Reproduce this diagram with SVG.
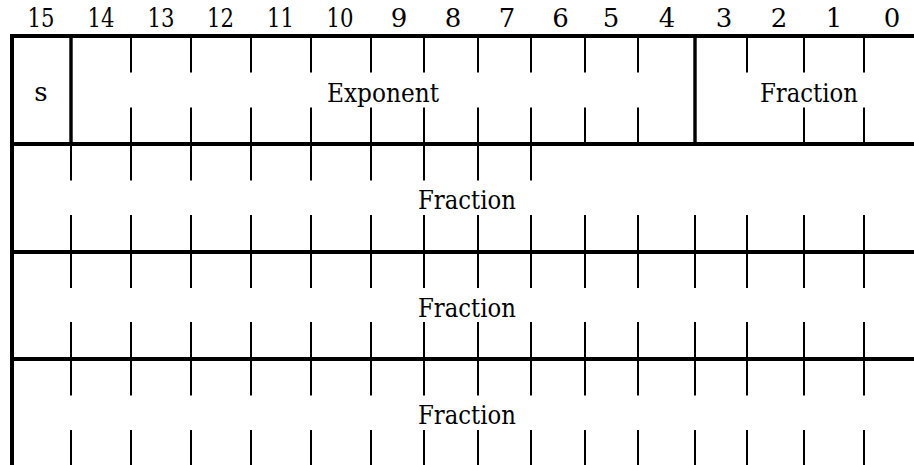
<svg xmlns="http://www.w3.org/2000/svg" width="914" height="465" viewBox="0 0 914 465">
<style>
text{font-family:'DejaVu Serif',serif;font-size:26px;fill:#000;text-anchor:middle}
.rule{stroke:#000;stroke-width:4;fill:none}
.div{stroke:#000;stroke-width:3.4;fill:none}
.tick{stroke:#000;stroke-width:2;fill:none}
</style>
<rect width="914" height="465" fill="#fff"/>
<g id="bit-numbers">
<text x="41" y="26.5" textLength="27" lengthAdjust="spacingAndGlyphs">15</text>
<text x="101" y="26.5" textLength="27" lengthAdjust="spacingAndGlyphs">14</text>
<text x="161" y="26.5" textLength="27" lengthAdjust="spacingAndGlyphs">13</text>
<text x="220.5" y="26.5" textLength="27" lengthAdjust="spacingAndGlyphs">12</text>
<text x="280.5" y="26.5" textLength="27" lengthAdjust="spacingAndGlyphs">11</text>
<text x="340" y="26.5" textLength="27" lengthAdjust="spacingAndGlyphs">10</text>
<text x="399" y="26.5">9</text>
<text x="453" y="26.5">8</text>
<text x="507" y="26.5">7</text>
<text x="560.5" y="26.5">6</text>
<text x="611" y="26.5">5</text>
<text x="667" y="26.5">4</text>
<text x="724" y="26.5">3</text>
<text x="779" y="26.5">2</text>
<text x="834" y="26.5">1</text>
<text x="892" y="26.5">0</text>
</g>
<g id="connectors">
<path class="rule" d="M10 36H914M10 144H914M10 252H914M10 359H914M12 34V465"/>
<path class="div" d="M71 36V144M695 36V144"/>
</g>
<g id="field-sign">
<text x="41" y="100.5">s</text>
</g>
<g id="field-exponent">
<path class="tick" d="M131 36V72.5M191 36V72.5M251 36V72.5M311 36V72.5M371 36V72.5M424 36V72.5M478 36V72.5M531 36V72.5M585 36V72.5M638 36V72.5M131 107.5V144M191 107.5V144M251 107.5V144M311 107.5V144M371 107.5V144M424 107.5V144M478 107.5V144M531 107.5V144M585 107.5V144M638 107.5V144"/>
<text x="383" y="101.5" textLength="112" lengthAdjust="spacingAndGlyphs">Exponent</text>
</g>
<g id="field-fraction-1">
<path class="tick" d="M747 36V72.5M804 36V72.5M864 36V72.5M804 107.5V144M864 107.5V144"/>
<text x="809" y="101.5" textLength="98" lengthAdjust="spacingAndGlyphs">Fraction</text>
</g>
<g id="field-fraction-2">
<path class="tick" d="M71 144V180.5M131 144V180.5M191 144V180.5M251 144V180.5M311 144V180.5M371 144V180.5M424 144V180.5M478 144V180.5M531 144V180.5M71 215V252M131 215V252M191 215V252M251 215V252M311 215V252M371 215V252M424 215V252M478 215V252M531 215V252M585 215V252M638 215V252M695 215V252M747 215V252M804 215V252M864 215V252"/>
<text x="467" y="209" textLength="98" lengthAdjust="spacingAndGlyphs">Fraction</text>
</g>
<g id="field-fraction-3">
<path class="tick" d="M71 252V288M131 252V288M191 252V288M251 252V288M311 252V288M371 252V288M424 252V288M478 252V288M531 252V288M585 252V288M638 252V288M695 252V288M747 252V288M804 252V288M864 252V288M71 322V359M131 322V359M191 322V359M251 322V359M311 322V359M371 322V359M424 322V359M478 322V359M531 322V359M585 322V359M638 322V359M695 322V359M747 322V359M804 322V359M864 322V359"/>
<text x="467" y="316.5" textLength="98" lengthAdjust="spacingAndGlyphs">Fraction</text>
</g>
<g id="field-fraction-4">
<path class="tick" d="M71 359V395.5M131 359V395.5M191 359V395.5M251 359V395.5M311 359V395.5M371 359V395.5M424 359V395.5M478 359V395.5M531 359V395.5M585 359V395.5M638 359V395.5M695 359V395.5M747 359V395.5M804 359V395.5M864 359V395.5M71 430V466M131 430V466M191 430V466M251 430V466M311 430V466M371 430V466M424 430V466M478 430V466M531 430V466M585 430V466M638 430V466M695 430V466M747 430V466M804 430V466M864 430V466"/>
<text x="467" y="424" textLength="98" lengthAdjust="spacingAndGlyphs">Fraction</text>
</g>
</svg>
